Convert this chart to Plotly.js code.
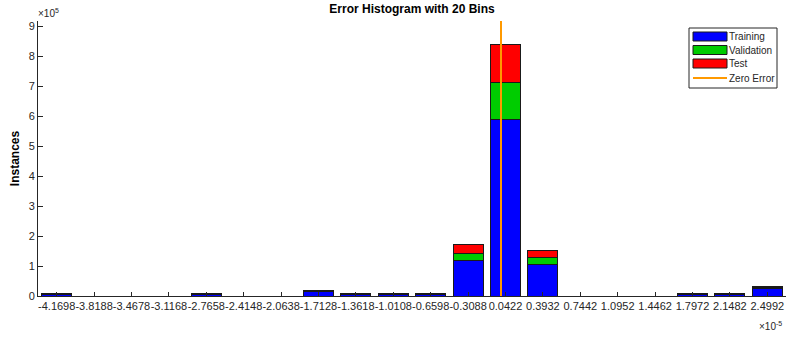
<!DOCTYPE html>
<html>
<head>
<meta charset="utf-8">
<script src="https://cdn.plot.ly/plotly-3.0.1.min.js"></script>
<style>html,body{margin:0;padding:0;background:#fff;}#chart{width:787px;height:338px;}</style>
</head>
<body>
<div id="chart"></div>
<script>
// Bin centers (in units of 1e-5) and their tick labels
var binLabels = ["-4.1698","-3.8188","-3.4678","-3.1168","-2.7658","-2.4148","-2.0638","-1.7128","-1.3618","-1.0108","-0.6598","-0.3088","0.0422","0.3932","0.7442","1.0952","1.4462","1.7972","2.1482","2.4992"];
var binCenters = binLabels.map(Number);
// Instances per bin, in units of 1e5
var trainingE5   = [0.065,0,0,0,0.06,0,0,0.14,0.06,0.06,0.06,1.20,5.87,1.06,0,0,0,0.05,0.05,0.24];
var validationE5 = [0.012,0,0,0,0.01,0,0,0.03,0.01,0.01,0.01,0.23,1.25,0.21,0,0,0,0.01,0.01,0.04];
var testE5       = [0.013,0,0,0,0.01,0,0,0.03,0.01,0.01,0.01,0.29,1.27,0.24,0,0,0,0.01,0.01,0.04];
var seriesNames  = ["Training","Validation","Test","Zero Error"];
var seriesColors = ["#0000ff","#00cc00","#ff0000","#ff9900"];
var yTicks = [0,1,2,3,4,5,6,7,8,9];
var zeroError = 0;
var yMax = 9.17;

function nz(a){return a.map(function(v){return v===0?null:v;});}
var edge = {color:'#1a1a1a', width:1};
var binW = binCenters[1]-binCenters[0];
var font = {family:'"Liberation Sans", Arial, sans-serif', color:'#262626'};

var traces = [
  {type:'bar', name:seriesNames[0], x:binCenters, y:nz(trainingE5), marker:{color:seriesColors[0], line:edge}},
  {type:'bar', name:seriesNames[1], x:binCenters, y:nz(validationE5), marker:{color:seriesColors[1], line:edge}},
  {type:'bar', name:seriesNames[2], x:binCenters, y:nz(testE5), marker:{color:seriesColors[2], line:edge}},
  {type:'scatter', mode:'lines', name:seriesNames[3], x:[zeroError,zeroError], y:[0,yMax], line:{color:seriesColors[3], width:2}, cliponaxis:false}
];

// Custom MATLAB-style legend (wide patches) in paper coordinates
var L=38, R=786, T=21, B=296;
function px(x){return (x-L)/(R-L);}
function py(y){return (B-y)/(B-T);}
var shapes = [
  {type:'rect', xref:'paper', yref:'paper', x0:px(689), x1:px(777), y0:py(88), y1:py(28), fillcolor:'#ffffff', line:{color:'#262626', width:1}, layer:'above'}
];
var annotations = [
  {xref:'paper', yref:'paper', x:0, y:1, xanchor:'left', yanchor:'bottom', text:'×10<sup>5</sup>', showarrow:false, font:{size:10, color:'#262626'}, xshift:-2},
  {xref:'paper', yref:'paper', x:1, y:0, xanchor:'right', yanchor:'top', text:'×10<sup>-5</sup>', showarrow:false, font:{size:10, color:'#262626'}, yshift:-22, xshift:-2}
];
var rowY = [36.5, 50, 63.5, 78];
for (var i=0;i<4;i++){
  if (i<3) {
    shapes.push({type:'rect', xref:'paper', yref:'paper', x0:px(693), x1:px(727), y0:py(rowY[i]+4.5), y1:py(rowY[i]-4.5),
      fillcolor:seriesColors[i], line:{color:'#1a1a1a', width:1}, layer:'above'});
  } else {
    shapes.push({type:'line', xref:'paper', yref:'paper', x0:px(693), x1:px(727), y0:py(rowY[i]), y1:py(rowY[i]),
      line:{color:seriesColors[i], width:2}, layer:'above'});
  }
  annotations.push({xref:'paper', yref:'paper', x:px(728), y:py(rowY[i]), xanchor:'left', yanchor:'middle',
    text:seriesNames[i], showarrow:false, font:{size:10, color:'#262626'}, borderpad:0});
}

var layout = {
  width:787, height:338,
  margin:{l:L, r:787-R, t:T, b:338-B},
  paper_bgcolor:'#ffffff', plot_bgcolor:'#ffffff',
  barmode:'stack', bargap:0.2,
  font:font,
  title:{text:'<b>Error Histogram with 20 Bins</b>', font:{family:font.family, size:12, color:'#000'}, x:0.5, xref:'paper', y:0.985, yanchor:'top'},
  xaxis:{range:[binCenters[0]-binW/2, binCenters[19]+binW/2], tickmode:'array', tickvals:binCenters, ticktext:binLabels,
         ticks:'inside', ticklen:4, tickcolor:'#262626', showline:true, linecolor:'#262626', linewidth:1,
         showgrid:false, zeroline:false, tickfont:{size:11, color:'#262626'}, tickangle:0},
  yaxis:{range:[0,yMax], tickmode:'array', tickvals:yTicks, ticktext:yTicks.map(String),
         ticks:'inside', ticklen:5, tickcolor:'#262626', showline:true, linecolor:'#262626', linewidth:1,
         showgrid:false, zeroline:false, tickfont:{size:11, color:'#262626'},
         title:{text:'<b>Instances</b>', font:{size:12, color:'#000'}, standoff:6}},
  showlegend:false,
  shapes:shapes,
  annotations:annotations
};
Plotly.newPlot('chart', traces, layout, {displayModeBar:false, staticPlot:true});
</script>
</body>
</html>
